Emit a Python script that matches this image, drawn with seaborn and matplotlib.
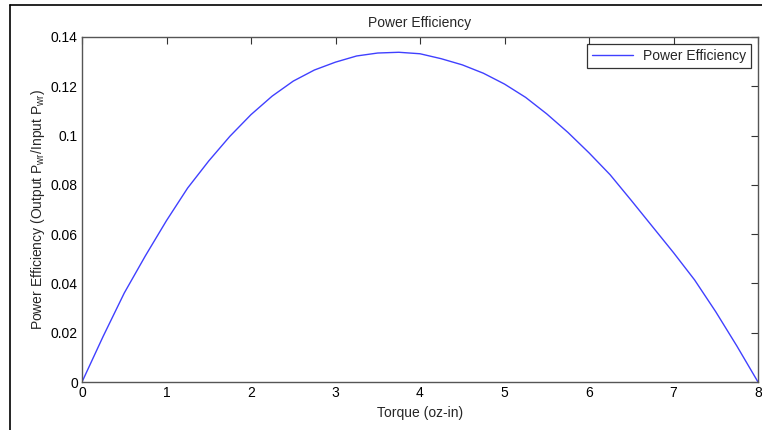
import matplotlib
matplotlib.use("Agg")
import matplotlib.pyplot as plt
from matplotlib.lines import Line2D
import seaborn as sns
import pandas as pd

torque = [0, 0.25, 0.5, 0.75, 1.0, 1.25, 1.5, 1.75, 2.0, 2.25, 2.5, 2.75, 3.0, 3.25, 3.5, 3.75,
          4.0, 4.25, 4.5, 4.75, 5.0, 5.25, 5.5, 5.75, 6.0, 6.25, 6.5, 6.75, 7.0, 7.25, 7.5, 7.75, 8.0]
efficiency = [0.0, 0.0185, 0.0361, 0.0512, 0.0655, 0.0787, 0.0897, 0.0997, 0.1085, 0.1160, 0.1221,
              0.1266, 0.1298, 0.1323, 0.1335, 0.1338, 0.1332, 0.1312, 0.1287, 0.1253, 0.1209, 0.1155,
              0.1088, 0.1013, 0.0930, 0.0841, 0.0737, 0.0631, 0.0525, 0.0414, 0.0285, 0.0146, 0.0]
x_ticks = [0, 1, 2, 3, 4, 5, 6, 7, 8]
y_ticks = [0, 0.02, 0.04, 0.06, 0.08, 0.1, 0.12, 0.14]
y_tick_labels = ["0", "0.02", "0.04", "0.06", "0.08", "0.1", "0.12", "0.14"]

sns.set_style("white")
plt.rcParams['font.family'] = ['Liberation Sans', 'DejaVu Sans']
plt.rcParams['mathtext.fontset'] = 'custom'
plt.rcParams['mathtext.rm'] = 'Liberation Sans'
plt.rcParams['mathtext.it'] = 'Liberation Sans'

df = pd.DataFrame({"Torque": torque, "Efficiency": efficiency})

W, H = 762, 430
fig = plt.figure(figsize=(W / 100, H / 100), dpi=100)
fig.patch.set_facecolor("white")
ax = fig.add_axes([82 / W, 1 - 382 / H, (758 - 82) / W, (382 - 37) / H])

sns.lineplot(data=df, x="Torque", y="Efficiency", ax=ax, color="#4040ff",
             linewidth=1.0, label="Power Efficiency")

ax.set_xlim(0, 8)
ax.set_ylim(0, 0.14)
ax.set_xticks(x_ticks)
ax.set_xticklabels([str(t) for t in x_ticks])
ax.set_yticks(y_ticks)
ax.set_yticklabels(y_tick_labels)
ax.tick_params(direction="in", length=5, width=0.8, top=True, right=True,
               labelsize=10, colors="#333333", labelcolor="black", pad=3)
for s in ax.spines.values():
    s.set_color("#555555")
    s.set_linewidth(1.0)

ax.set_title("Power Efficiency", fontsize=10, pad=7)
ax.set_xlabel("Torque (oz-in)", fontsize=10, labelpad=4)
ax.set_ylabel(r"Power Efficiency (Output P$_{\mathrm{wr}}$/Input P$_{\mathrm{wr}}$)",
              fontsize=10, labelpad=3)

leg = ax.legend(loc="upper right", fontsize=10, handlelength=3.0, frameon=True,
                fancybox=False, borderaxespad=0.5, borderpad=0.35, handletextpad=0.7)
leg.get_frame().set_edgecolor("black")
leg.get_frame().set_linewidth(0.9)

# window border lines of the screenshot
fig.add_artist(Line2D([10 / W, 10 / W], [0, 1 - 5 / H], color="black", lw=1.2))
fig.add_artist(Line2D([10 / W, 1], [1 - 5 / H, 1 - 5 / H], color="black", lw=1.2))

fig.savefig("out.png", dpi=100, facecolor="white")
